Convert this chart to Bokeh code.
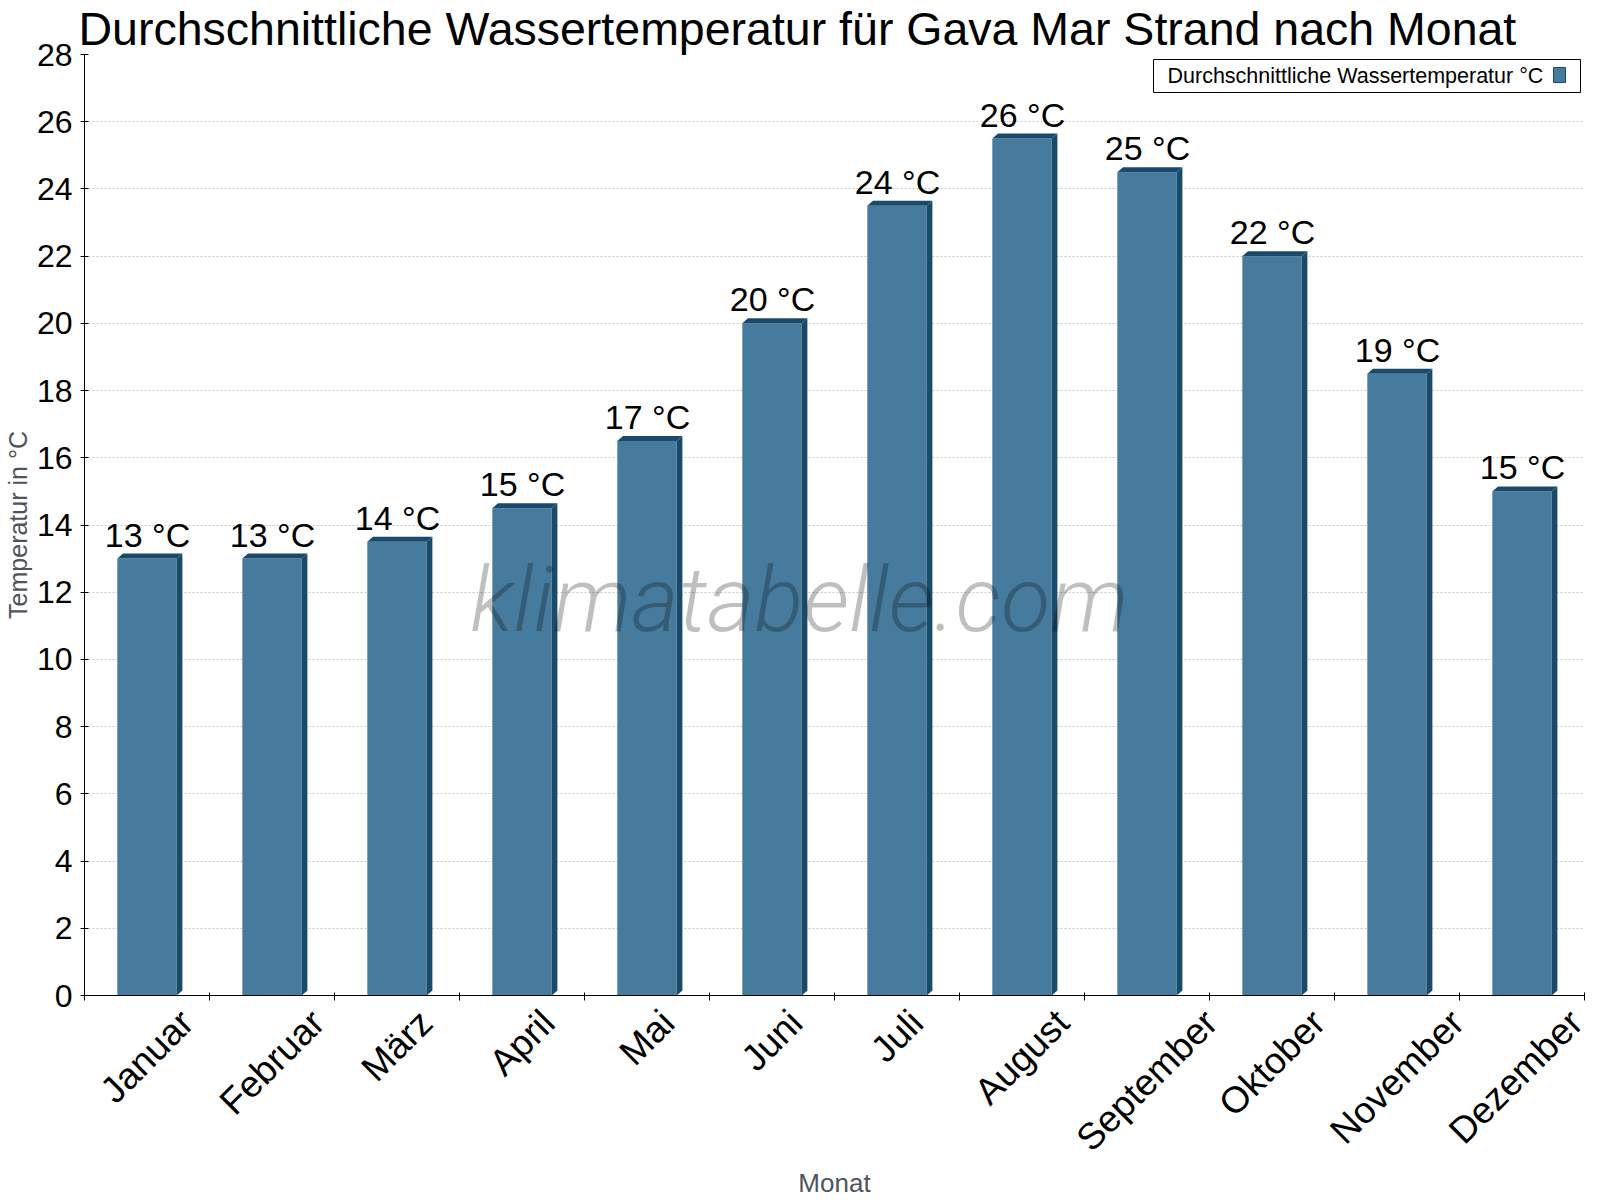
import math
from bokeh.plotting import figure
from bokeh.models import (Range1d, FixedTicker, LabelSet, Label, ColumnDataSource,
                          BoxAnnotation, CustomJSTickFormatter)
from bokeh.core.properties import value
from bokeh.embed import file_html
from bokeh.resources import INLINE

# ---------------- data ----------------
months = ["Januar", "Februar", "März", "April", "Mai", "Juni", "Juli",
          "August", "September", "Oktober", "November", "Dezember"]
water_temp = [13, 13, 13.5, 14.5, 16.5, 20, 23.5, 25.5, 24.5, 22, 18.5, 15]
value_labels = [f"{math.floor(v + 0.5)} °C" for v in water_temp]
y_ticks = list(range(0, 29, 2))

title_text = "Durchschnittliche Wassertemperatur für Gava Mar Strand nach Monat"
legend_text = "Durchschnittliche Wassertemperatur °C"
x_title = "Monat"
y_title = "Temperatur in °C"
watermark = "klimatabelle.com"

# ---------------- style ----------------
FONT = "Liberation Sans"
FRONT = "#467b9d"
SIDE = "#1a4a6a"
GRAY_TXT = "#4d545c"

FRAME_W, FRAME_H = 1500, 941
X0, X1 = 0, len(months)
Y0, Y1 = 0, 28
SX = FRAME_W / (X1 - X0)   # px per x unit
SY = FRAME_H / (Y1 - Y0)   # px per y unit

# Liberation Sans advance widths (em), used to centre rotated month labels
ADV = {"J": .5, "a": .556, "n": .556, "u": .556, "r": .333, "F": .611, "e": .556,
       "b": .556, "M": .833, "ä": .556, "z": .5, "A": .667, "p": .556, "i": .222,
       "l": .222, "g": .556, "s": .5, "t": .278, "S": .667, "m": .833, "O": .778,
       "k": .5, "o": .556, "N": .722, "v": .5, "D": .722}


def text_w(s, size):
    return sum(ADV.get(c, .556) for c in s) * size


p = figure(frame_width=FRAME_W, frame_height=FRAME_H,
           x_range=Range1d(X0, X1), y_range=Range1d(Y0, Y1),
           output_backend="svg", toolbar_location=None,
           min_border_left=78, min_border_right=6, min_border_top=45,
           min_border_bottom=190, background_fill_color="white",
           border_fill_color="white")
p.outline_line_color = None

# title
p.title.text = title_text
p.title.text_font = FONT
p.title.text_font_size = "46.5px"
p.title.text_font_style = "normal"
p.title.text_color = "black"
p.title.align = "left"
p.title.offset = -6
p.title.standoff = 0
p.title.text_line_height = 1.2

# ---------------- bars ----------------
centers = [i + 0.5 for i in range(len(months))]
BAR_W = 0.475
DX = 5.7 / SX
DY = 5.0 / SY

p.vbar(x=centers, top=water_temp, bottom=0, width=BAR_W,
       fill_color=FRONT, line_color=None)

xs, ys = [], []
for c, v in zip(centers, water_temp):
    xl, xr = c - BAR_W / 2, c + BAR_W / 2
    xs.append([xl, xl + DX, xr + DX, xr])
    ys.append([v, v + DY, v + DY, v])
    xs.append([xr, xr + DX, xr + DX, xr])
    ys.append([0, DY, v + DY, v])
p.patches(xs, ys, fill_color=SIDE, line_color=None)

# value labels
vsrc = ColumnDataSource(dict(x=centers, y=water_temp, t=value_labels))
p.add_layout(LabelSet(x="x", y="y", text="t", source=vsrc, y_offset=12, x_offset=0.5,
                      text_align="center", text_baseline="alphabetic",
                      text_font=value(FONT), text_font_size="34px", text_color="black"))

# ---------------- axes ----------------
p.xgrid.visible = False
p.ygrid.grid_line_color = "#c8c8c8"
p.ygrid.grid_line_dash = "2 2"
p.ygrid.ticker = FixedTicker(ticks=y_ticks)

p.yaxis.ticker = FixedTicker(ticks=y_ticks)
p.yaxis.axis_label = y_title
p.yaxis.axis_label_text_font = FONT
p.yaxis.axis_label_text_font_size = "25px"
p.yaxis.axis_label_text_font_style = "normal"
p.yaxis.axis_label_text_color = GRAY_TXT
p.yaxis.axis_label_standoff = 2
p.yaxis.major_label_text_font = FONT
p.yaxis.major_label_text_font_size = "32px"
p.yaxis.major_label_text_color = "black"
p.yaxis.major_label_standoff = 8
p.yaxis.major_tick_in = 4
p.yaxis.major_tick_out = 4
p.yaxis.minor_tick_line_color = None
p.yaxis.axis_line_color = "black"
p.yaxis.major_tick_line_color = "black"

# month labels: rotated 45°, each placed so that its centre sits under its bar
LBL = 37
label_pos = [c + 0.3536 * text_w(m, LBL) / SX for c, m in zip(centers, months)]
p.xaxis.ticker = FixedTicker(ticks=label_pos, minor_ticks=list(range(X0, X1 + 1)))
p.xaxis.formatter = CustomJSTickFormatter(
    args=dict(names=months, pos=label_pos),
    code="""
let best = 0;
for (let i = 1; i < pos.length; i++) {
  if (Math.abs(pos[i] - tick) < Math.abs(pos[best] - tick)) best = i;
}
return names[best];
""")
p.xaxis.major_label_orientation = math.pi / 4
p.xaxis.major_label_text_font = FONT
p.xaxis.major_label_text_font_size = f"{LBL}px"
p.xaxis.major_label_text_color = "black"
p.xaxis.major_label_standoff = 16
p.xaxis.major_tick_in = 0
p.xaxis.major_tick_out = 0
p.xaxis.major_tick_line_color = None
p.xaxis.minor_tick_in = 3
p.xaxis.minor_tick_out = 5
p.xaxis.minor_tick_line_color = "black"
p.xaxis.axis_line_color = "black"
p.xaxis.axis_label = x_title
p.xaxis.axis_label_text_font = FONT
p.xaxis.axis_label_text_font_size = "26px"
p.xaxis.axis_label_text_font_style = "normal"
p.xaxis.axis_label_text_color = GRAY_TXT
p.xaxis.axis_label_standoff = -8

# ---------------- watermark ----------------
p.add_layout(Label(x=X0 + 715 / SX, y=Y1 - 545 / SY, text=watermark,
                   text_align="center", text_baseline="alphabetic",
                   text_font="Roboto Light, Roboto", text_font_style="italic",
                   text_font_size="91px", text_color="black", text_alpha=0.25))

# ---------------- legend (text then swatch) ----------------
def xr_(px):
    return X1 - px / SX


def yt_(px):
    return Y1 - px / SY


p.add_layout(BoxAnnotation(left=xr_(431), right=xr_(4), top=yt_(5), bottom=yt_(38),
                           fill_color="white", fill_alpha=1.0,
                           line_color="black", line_width=1, line_alpha=1.0))
p.add_layout(Label(x=xr_(417), y=yt_(21.5), text=legend_text,
                   text_align="left", text_baseline="middle",
                   text_font=FONT, text_font_size="21.5px", text_color="black"))
p.add_layout(BoxAnnotation(left=xr_(31), right=xr_(19), top=yt_(13), bottom=yt_(28),
                           fill_color=FRONT, fill_alpha=1.0,
                           line_color=SIDE, line_width=1, line_alpha=1.0))

open("out.html", "w").write(file_html(p, INLINE))
